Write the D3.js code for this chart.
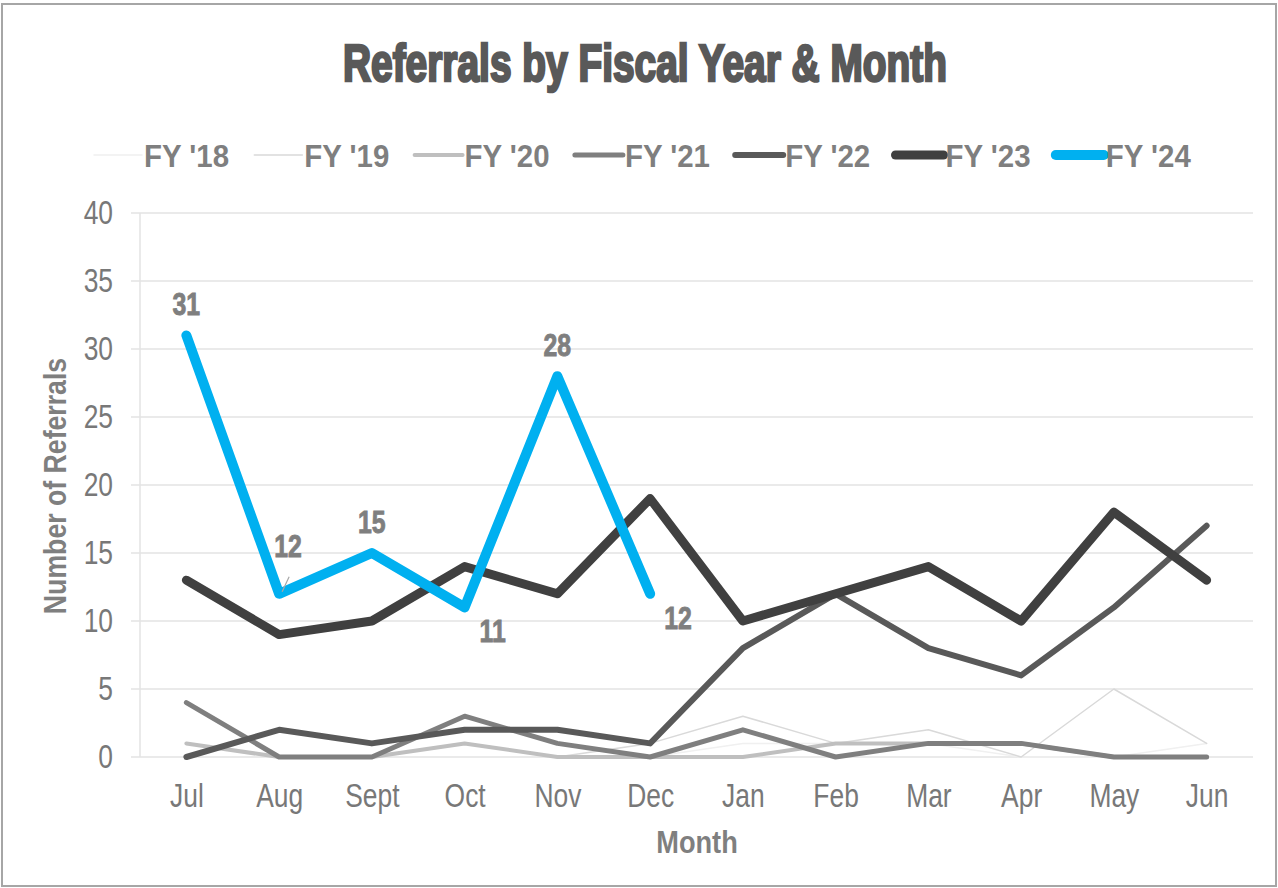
<!DOCTYPE html>
<html>
<head>
<meta charset="utf-8">
<script src="https://cdn.jsdelivr.net/npm/d3@7"></script>
<style>
  body { margin: 0; background: #fff; }
  svg { display: block; }
</style>
</head>
<body>
<svg width="1278" height="888"></svg>
<script>
var months = ['Jul','Aug','Sept','Oct','Nov','Dec','Jan','Feb','Mar','Apr','May','Jun'];
var seriesNames = ["FY '18","FY '19","FY '20","FY '21","FY '22","FY '23","FY '24"];
var fy18 = [1,0,0,1,0,0,1,1,1,0,0,1];
var fy19 = [1,0,0,1,0,1,3,1,2,0,5,1];
var fy20 = [1,0,0,1,0,0,0,1,1,1,0,0];
var fy21 = [4,0,0,3,1,0,2,0,1,1,0,0];
var fy22 = [0,2,1,2,2,1,8,12,8,6,11,17];
var fy23 = [13,9,10,14,12,19,10,12,14,10,18,13];
var fy24 = [31,12,15,11,28,12];
var yTicks = [0,5,10,15,20,25,30,35,40];

var colors = ['#f0f0f0','#d9d9d9','#bfbfbf','#7f7f7f','#595959','#404040','#00b0f0'];
var widths = [1.5,1.5,4,5,6,9,10];
var allSeries = [fy18,fy19,fy20,fy21,fy22,fy23,fy24];

var font = "'Liberation Sans',Arial,sans-serif";

// squeeze text horizontally to look like a narrow face
function narrowText(sel, k) {
  sel.each(function() {
    var w = this.getComputedTextLength();
    d3.select(this).attr('textLength', w * k).attr('lengthAdjust','spacingAndGlyphs');
  });
}

var svg = d3.select('svg');

// chart border
svg.append('rect').attr('x',2).attr('y',4).attr('width',1274).attr('height',882)
   .attr('fill','#fff').attr('stroke','#a6a6a6').attr('stroke-width',2);

var x = d3.scalePoint().domain(months).range([140,1253]).padding(0.5);
var y = d3.scaleLinear().domain([0,40]).range([757,213]);

// grid
var grid = svg.append('g');
grid.selectAll('line').data(yTicks).enter().append('line')
    .attr('x1',131).attr('x2',1253)
    .attr('y1',function(d){ return y(d); }).attr('y2',function(d){ return y(d); })
    .attr('stroke','#e3e3e3').attr('stroke-width',1.5);
grid.append('line').attr('x1',140).attr('x2',140).attr('y1',y(40)).attr('y2',y(0))
    .attr('stroke','#e3e3e3').attr('stroke-width',1.5);

// axes
var yAxis = svg.append('g').attr('transform','translate(140,0)')
    .call(d3.axisLeft(y).tickValues(yTicks).tickSize(0).tickPadding(27));
yAxis.select('.domain').remove();
yAxis.selectAll('text').attr('font-family',font).attr('font-size',33).attr('fill','#787878')
     .call(narrowText, 0.8);

var xAxis = svg.append('g').attr('transform','translate(0,' + y(0) + ')')
    .call(d3.axisBottom(x).tickSize(0).tickPadding(27));
xAxis.select('.domain').remove();
xAxis.selectAll('text').attr('font-family',font).attr('font-size',33).attr('fill','#787878')
     .call(narrowText, 0.8);

// axis titles
svg.append('text').attr('transform','translate(66,486) rotate(-90)')
   .attr('text-anchor','middle').attr('font-family',font).attr('font-weight','bold')
   .attr('font-size',31).attr('fill','#7f7f7f').text('Number of Referrals')
   .call(narrowText, 0.86);
svg.append('text').attr('x',697).attr('y',853)
   .attr('text-anchor','middle').attr('font-family',font).attr('font-weight','bold')
   .attr('font-size',32).attr('fill','#7f7f7f').text('Month')
   .call(narrowText, 0.85);

// title
svg.append('text').attr('x',645).attr('y',81)
   .attr('text-anchor','middle').attr('font-family',font).attr('font-weight','bold')
   .attr('font-size',51).attr('fill','#595959')
   .attr('stroke','#595959').attr('stroke-width',2.6)
   .attr('textLength',604).attr('lengthAdjust','spacingAndGlyphs')
   .text('Referrals by Fiscal Year & Month');

// lines
var line = d3.line()
    .x(function(d,i){ return x(months[i]); })
    .y(function(d){ return y(d); });

svg.append('g').selectAll('path').data(allSeries).enter().append('path')
   .attr('d',line)
   .attr('fill','none')
   .attr('stroke',function(d,i){ return colors[i]; })
   .attr('stroke-width',function(d,i){ return widths[i]; })
   .attr('stroke-linejoin','round')
   .attr('stroke-linecap','round');

// data labels for FY '24
var labelPos = ['above','above','above','below','above','below'];
var labels = svg.append('g');
labels.selectAll('text').data(fy24).enter().append('text')
   .attr('x',function(d,i){
      var px = x(months[i]);
      if (labelPos[i] === 'below') return px + 28;
      if (i === 1) return px + 9;
      return px;
   })
   .attr('y',function(d,i){
      var py = y(d);
      if (labelPos[i] === 'below') return py + 35;
      if (i === 1) return py - 37;
      return py - 20;
   })
   .attr('text-anchor','middle')
   .attr('font-family',font).attr('font-weight','bold').attr('font-size',31)
   .attr('fill','#7f7f7f').attr('stroke','#7f7f7f').attr('stroke-width',0.9)
   .text(function(d){ return d; })
   .call(narrowText, 0.8);
// leader line for Aug label
labels.append('line')
   .attr('x1',x(months[1]) + 3).attr('y1',y(fy24[1]) - 2)
   .attr('x2',x(months[1]) + 10).attr('y2',y(fy24[1]) - 17)
   .attr('stroke','#a6a6a6').attr('stroke-width',1.2);

// legend
var legend = svg.append('g');
var entries = legend.selectAll('g').data(seriesNames).enter().append('g')
   .attr('transform',function(d,i){ return 'translate(' + (94 + i*160.3) + ',155)'; });
entries.append('line').attr('x1',0).attr('x2',48).attr('y1',0).attr('y2',0)
   .attr('stroke',function(d,i){ return colors[i]; })
   .attr('stroke-width',function(d,i){ return widths[i]; })
   .attr('stroke-linecap','round');
entries.append('text').attr('x',50).attr('y',12)
   .attr('font-family',font).attr('font-weight','bold').attr('font-size',32)
   .attr('fill','#7f7f7f')
   .text(function(d){ return d; })
   .call(narrowText, 0.92);
</script>
</body>
</html>
